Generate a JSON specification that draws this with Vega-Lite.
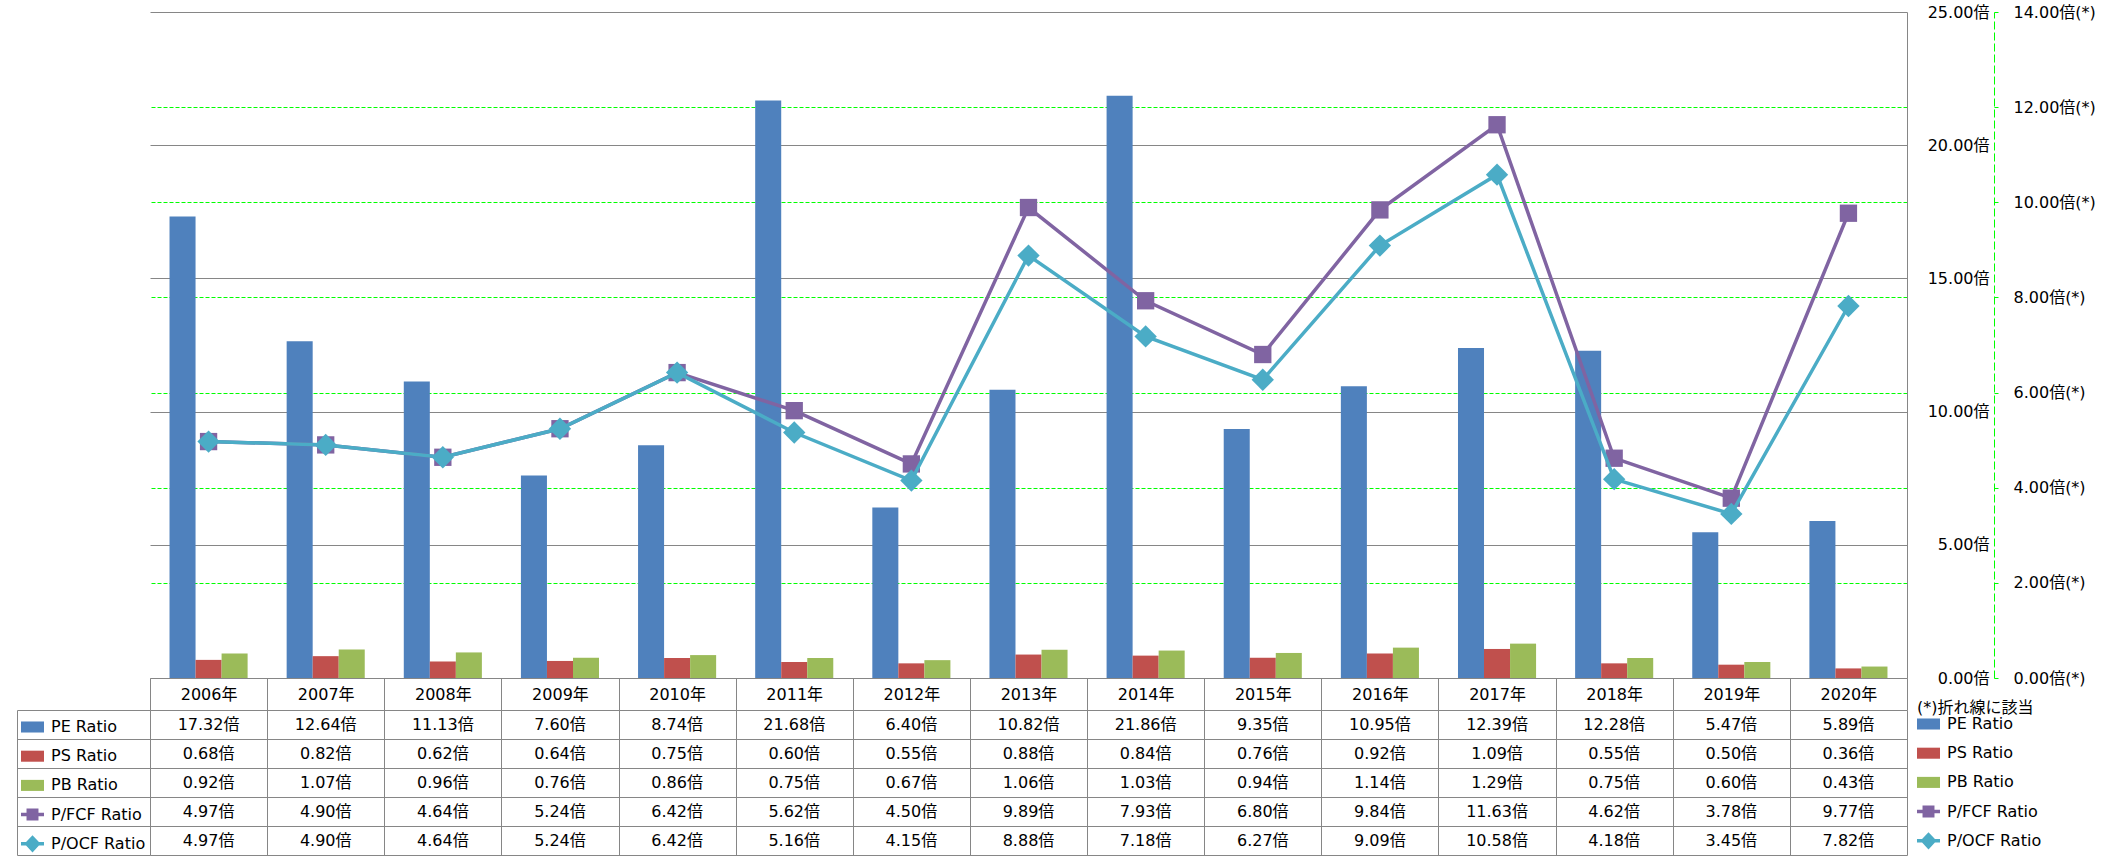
{
  "$schema": "https://vega.github.io/schema/vega-lite/v6.json",
  "padding": {"left": 16, "top": 4, "right": 0, "bottom": 0},
  "background": "white",
  "bounds": "flush",
  "spacing": 32,
  "resolve": {"scale": {"color": "independent"}, "legend": {"color": "independent"}},
  "config": {
    "font": "DejaVu Sans, Noto Sans CJK JP",
    "view": {"stroke": null},
    "axis": {"labelFont": "DejaVu Sans, Noto Sans CJK JP", "labelFontSize": 16, "labelColor": "#000000", "gridColor": "#868686", "domainColor": "#868686", "tickColor": "#868686", "titleFontSize": 16},
    "legend": {"symbolSize": 529, "rowPadding": 9.2, "labelOffset": 7, "labelFont": "DejaVu Sans, Noto Sans CJK JP", "labelFontSize": 16, "labelColor": "#000000", "padding": 0, "titleFont": "DejaVu Sans, Noto Sans CJK JP", "titleFontSize": 16, "titleFontWeight": "normal", "titleColor": "#000000", "titlePadding": -3, "labelLimit": 300, "titleLimit": 300}
  },
  "datasets": {
    "ratios": [
      {"year": "2006年", "series": "PE Ratio", "value": 17.32},
      {"year": "2007年", "series": "PE Ratio", "value": 12.64},
      {"year": "2008年", "series": "PE Ratio", "value": 11.13},
      {"year": "2009年", "series": "PE Ratio", "value": 7.60},
      {"year": "2010年", "series": "PE Ratio", "value": 8.74},
      {"year": "2011年", "series": "PE Ratio", "value": 21.68},
      {"year": "2012年", "series": "PE Ratio", "value": 6.40},
      {"year": "2013年", "series": "PE Ratio", "value": 10.82},
      {"year": "2014年", "series": "PE Ratio", "value": 21.86},
      {"year": "2015年", "series": "PE Ratio", "value": 9.35},
      {"year": "2016年", "series": "PE Ratio", "value": 10.95},
      {"year": "2017年", "series": "PE Ratio", "value": 12.39},
      {"year": "2018年", "series": "PE Ratio", "value": 12.28},
      {"year": "2019年", "series": "PE Ratio", "value": 5.47},
      {"year": "2020年", "series": "PE Ratio", "value": 5.89},
      {"year": "2006年", "series": "PS Ratio", "value": 0.68},
      {"year": "2007年", "series": "PS Ratio", "value": 0.82},
      {"year": "2008年", "series": "PS Ratio", "value": 0.62},
      {"year": "2009年", "series": "PS Ratio", "value": 0.64},
      {"year": "2010年", "series": "PS Ratio", "value": 0.75},
      {"year": "2011年", "series": "PS Ratio", "value": 0.60},
      {"year": "2012年", "series": "PS Ratio", "value": 0.55},
      {"year": "2013年", "series": "PS Ratio", "value": 0.88},
      {"year": "2014年", "series": "PS Ratio", "value": 0.84},
      {"year": "2015年", "series": "PS Ratio", "value": 0.76},
      {"year": "2016年", "series": "PS Ratio", "value": 0.92},
      {"year": "2017年", "series": "PS Ratio", "value": 1.09},
      {"year": "2018年", "series": "PS Ratio", "value": 0.55},
      {"year": "2019年", "series": "PS Ratio", "value": 0.50},
      {"year": "2020年", "series": "PS Ratio", "value": 0.36},
      {"year": "2006年", "series": "PB Ratio", "value": 0.92},
      {"year": "2007年", "series": "PB Ratio", "value": 1.07},
      {"year": "2008年", "series": "PB Ratio", "value": 0.96},
      {"year": "2009年", "series": "PB Ratio", "value": 0.76},
      {"year": "2010年", "series": "PB Ratio", "value": 0.86},
      {"year": "2011年", "series": "PB Ratio", "value": 0.75},
      {"year": "2012年", "series": "PB Ratio", "value": 0.67},
      {"year": "2013年", "series": "PB Ratio", "value": 1.06},
      {"year": "2014年", "series": "PB Ratio", "value": 1.03},
      {"year": "2015年", "series": "PB Ratio", "value": 0.94},
      {"year": "2016年", "series": "PB Ratio", "value": 1.14},
      {"year": "2017年", "series": "PB Ratio", "value": 1.29},
      {"year": "2018年", "series": "PB Ratio", "value": 0.75},
      {"year": "2019年", "series": "PB Ratio", "value": 0.60},
      {"year": "2020年", "series": "PB Ratio", "value": 0.43},
      {"year": "2006年", "series": "P/FCF Ratio", "value": 4.97},
      {"year": "2007年", "series": "P/FCF Ratio", "value": 4.90},
      {"year": "2008年", "series": "P/FCF Ratio", "value": 4.64},
      {"year": "2009年", "series": "P/FCF Ratio", "value": 5.24},
      {"year": "2010年", "series": "P/FCF Ratio", "value": 6.42},
      {"year": "2011年", "series": "P/FCF Ratio", "value": 5.62},
      {"year": "2012年", "series": "P/FCF Ratio", "value": 4.50},
      {"year": "2013年", "series": "P/FCF Ratio", "value": 9.89},
      {"year": "2014年", "series": "P/FCF Ratio", "value": 7.93},
      {"year": "2015年", "series": "P/FCF Ratio", "value": 6.80},
      {"year": "2016年", "series": "P/FCF Ratio", "value": 9.84},
      {"year": "2017年", "series": "P/FCF Ratio", "value": 11.63},
      {"year": "2018年", "series": "P/FCF Ratio", "value": 4.62},
      {"year": "2019年", "series": "P/FCF Ratio", "value": 3.78},
      {"year": "2020年", "series": "P/FCF Ratio", "value": 9.77},
      {"year": "2006年", "series": "P/OCF Ratio", "value": 4.97},
      {"year": "2007年", "series": "P/OCF Ratio", "value": 4.90},
      {"year": "2008年", "series": "P/OCF Ratio", "value": 4.64},
      {"year": "2009年", "series": "P/OCF Ratio", "value": 5.24},
      {"year": "2010年", "series": "P/OCF Ratio", "value": 6.42},
      {"year": "2011年", "series": "P/OCF Ratio", "value": 5.16},
      {"year": "2012年", "series": "P/OCF Ratio", "value": 4.15},
      {"year": "2013年", "series": "P/OCF Ratio", "value": 8.88},
      {"year": "2014年", "series": "P/OCF Ratio", "value": 7.18},
      {"year": "2015年", "series": "P/OCF Ratio", "value": 6.27},
      {"year": "2016年", "series": "P/OCF Ratio", "value": 9.09},
      {"year": "2017年", "series": "P/OCF Ratio", "value": 10.58},
      {"year": "2018年", "series": "P/OCF Ratio", "value": 4.18},
      {"year": "2019年", "series": "P/OCF Ratio", "value": 3.45},
      {"year": "2020年", "series": "P/OCF Ratio", "value": 7.82}
    ]
  },
  "vconcat": [
    {
      "width": 1757,
      "height": 666,
      "data": {"name": "ratios"},
      "layer": [
        {
          "transform": [{"filter": "indexof(['PE Ratio','PS Ratio','PB Ratio'], datum.series) >= 0"}],
          "mark": {"type": "bar"},
          "encoding": {
            "x": {
              "field": "year", "type": "nominal",
              "scale": {"domain": ["2006年","2007年","2008年","2009年","2010年","2011年","2012年","2013年","2014年","2015年","2016年","2017年","2018年","2019年","2020年"], "paddingInner": 0, "paddingOuter": 0},
              "axis": {"orient": "bottom", "title": null, "tickBand": "extent", "tickSize": 32, "labelPadding": -16, "labelBaseline": "middle", "labelAngle": 0, "grid": false, "domain": true}
            },
            "xOffset": {"field": "series", "type": "nominal", "scale": {"domain": ["PE Ratio","PS Ratio","PB Ratio"], "paddingInner": 0, "paddingOuter": 0.75}},
            "y": {
              "field": "value", "type": "quantitative",
              "scale": {"domain": [0, 25]},
              "axis": {"orient": "right", "title": null, "values": [0, 5, 10, 15, 20, 25], "labelExpr": "format(datum.value, '.2f') + '倍'", "ticks": false, "tickSize": 0, "labelPadding": 82, "labelAlign": "right", "labelBaseline": "middle", "grid": true, "domain": true}
            },
            "color": {
              "field": "series", "type": "nominal",
              "scale": {"domain": ["PE Ratio","PS Ratio","PB Ratio","P/FCF Ratio","P/OCF Ratio"], "range": ["#4F81BD","#C0504D","#9BBB59","#8064A2","#4BACC6"]},
              "legend": {
                "orient": "none", "legendX": 1767, "legendY": 687.5,
                "title": "(*)折れ線に該当",
                "encode": {"symbols": {"update": {
                  "shape": {"signal": "datum.value === 'P/FCF Ratio' ? 'M-1,-0.15H-0.52V-0.52H0.52V-0.15H1V0.15H0.52V0.52H-0.52V0.15H-1Z' : datum.value === 'P/OCF Ratio' ? 'M-1,-0.15H-0.56L0,-0.75L0.56,-0.15H1V0.15H0.56L0,0.75L-0.56,0.15H-1Z' : 'M-1,-0.48H1V0.48H-1Z'"},
                  "fill": {"signal": "datum.value === 'PE Ratio' ? '#4F81BD' : datum.value === 'PS Ratio' ? '#C0504D' : datum.value === 'PB Ratio' ? '#9BBB59' : datum.value === 'P/FCF Ratio' ? '#8064A2' : '#4BACC6'"},
                  "stroke": {"value": "transparent"},
                  "strokeWidth": {"value": 0},
                  "size": {"value": 529},
                  "opacity": {"value": 1}
                }}}
              }
            }
          }
        },
        {
          "layer": [
            {
              "transform": [{"filter": "datum.series === 'P/FCF Ratio'"}],
              "mark": {"type": "line", "strokeWidth": 3.5, "point": {"shape": "square", "size": 300, "filled": true}},
              "encoding": {
                "x": {"field": "year", "type": "nominal"},
                "y": {
                  "field": "value", "type": "quantitative",
                  "scale": {"domain": [0, 14]},
                  "axis": {"orient": "right", "offset": 87, "title": null, "values": [0, 2, 4, 6, 8, 10, 12, 14], "labelExpr": "format(datum.value, '.2f') + '倍(*)'", "tickSize": 4, "tickColor": "#00FF00", "labelPadding": 15, "labelAlign": "left", "labelBaseline": "middle", "domainColor": "#00FF00", "domainDash": [8, 3], "grid": true, "gridColor": "#00FF00", "gridDash": [4, 2], "gridOpacity": {"condition": {"test": "datum.value === 0 || datum.value === 14", "value": 0}, "value": 1}}
                },
                "color": {"field": "series", "type": "nominal"}
              }
            },
            {
              "transform": [{"filter": "datum.series === 'P/OCF Ratio'"}],
              "mark": {"type": "line", "strokeWidth": 3.5, "point": {"shape": "diamond", "size": 500, "filled": true}},
              "encoding": {
                "x": {"field": "year", "type": "nominal"},
                "y": {"field": "value", "type": "quantitative"},
                "color": {"field": "series", "type": "nominal"}
              }
            }
          ]
        }
      ],
      "resolve": {"scale": {"y": "independent"}}
    },
    {
      "width": 1757,
      "height": 145,
      "data": {"name": "ratios"},
      "layer": [
        {
          "mark": {"type": "text", "fontSize": 16, "font": "DejaVu Sans, Noto Sans CJK JP", "color": "#000000", "baseline": "middle", "align": "center", "text": {"expr": "format(datum.value, '.2f') + '倍'"}},
          "encoding": {
            "x": {
              "field": "year", "type": "nominal",
              "scale": {"domain": ["2006年","2007年","2008年","2009年","2010年","2011年","2012年","2013年","2014年","2015年","2016年","2017年","2018年","2019年","2020年"], "paddingInner": 0, "paddingOuter": 0},
              "axis": {"orient": "top", "title": null, "tickBand": "extent", "grid": true, "labels": false, "ticks": false, "domain": false}
            },
            "y": {
              "field": "series", "type": "nominal",
              "scale": {"domain": ["PE Ratio","PS Ratio","PB Ratio","P/FCF Ratio","P/OCF Ratio"], "paddingInner": 0, "paddingOuter": 0},
              "axis": {"orient": "left", "title": null, "tickBand": "extent", "grid": true, "labels": false, "ticks": true, "tickSize": 133, "domain": true}
            }
          }
        },
        {
          "mark": {"type": "bar", "opacity": 0},
          "encoding": {
            "x": {"field": "year", "type": "nominal"},
            "y": {
              "field": "series", "type": "nominal",
              "scale": {"domain": ["PE Ratio","PS Ratio","PB Ratio","P/FCF Ratio","P/OCF Ratio"], "paddingInner": 0, "paddingOuter": 0},
              "axis": {"orient": "left", "title": null, "offset": 133, "labels": false, "ticks": false, "grid": false, "domain": true}
            },
            "color": {
              "field": "series", "type": "nominal",
              "scale": {"domain": ["PE Ratio","PS Ratio","PB Ratio","P/FCF Ratio","P/OCF Ratio"], "range": ["#4F81BD","#C0504D","#9BBB59","#8064A2","#4BACC6"]},
              "legend": {
                "orient": "none", "legendX": -129, "legendY": 5.5,
                "title": null,
                "encode": {"symbols": {"update": {
                  "shape": {"signal": "datum.value === 'P/FCF Ratio' ? 'M-1,-0.15H-0.52V-0.52H0.52V-0.15H1V0.15H0.52V0.52H-0.52V0.15H-1Z' : datum.value === 'P/OCF Ratio' ? 'M-1,-0.15H-0.56L0,-0.75L0.56,-0.15H1V0.15H0.56L0,0.75L-0.56,0.15H-1Z' : 'M-1,-0.48H1V0.48H-1Z'"},
                  "fill": {"signal": "datum.value === 'PE Ratio' ? '#4F81BD' : datum.value === 'PS Ratio' ? '#C0504D' : datum.value === 'PB Ratio' ? '#9BBB59' : datum.value === 'P/FCF Ratio' ? '#8064A2' : '#4BACC6'"},
                  "stroke": {"value": "transparent"},
                  "strokeWidth": {"value": 0},
                  "size": {"value": 529},
                  "opacity": {"value": 1}
                }}}
              }
            }
          }
        }
      ],
      "resolve": {"scale": {"y": "independent"}}
    }
  ]
}
